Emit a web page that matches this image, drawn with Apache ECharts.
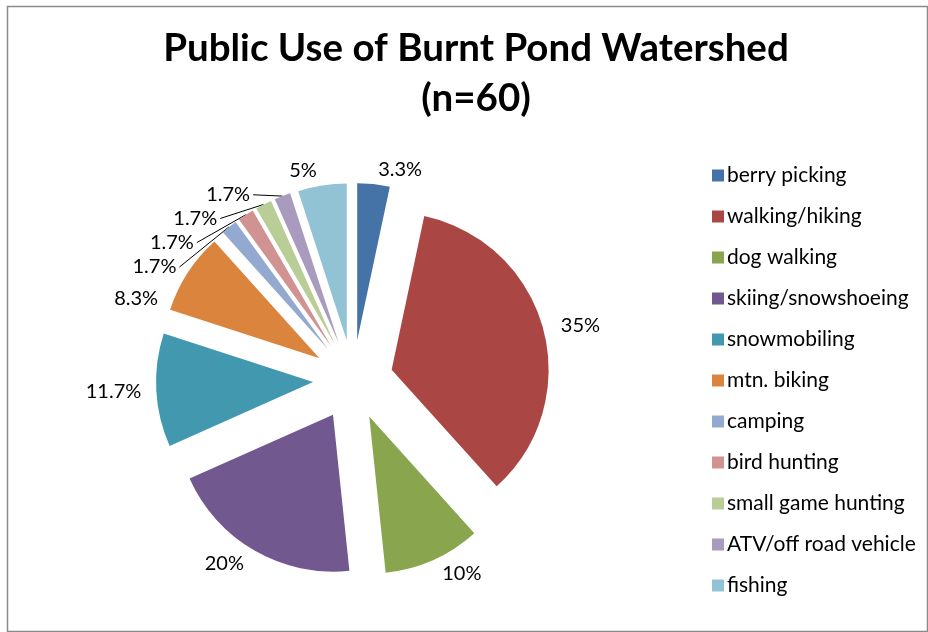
<!DOCTYPE html>
<html>
<head>
<meta charset="utf-8">
<script src="https://cdn.jsdelivr.net/npm/echarts@6/dist/echarts.min.js"></script>
<style>
html,body{margin:0;padding:0;background:#fff;}
#chart{width:928px;height:632px;}
</style>
</head>
<body>
<div id="chart"></div>
<script>
const categories = ["berry picking","walking/hiking","dog walking","skiing/snowshoeing","snowmobiling","mtn. biking","camping","bird hunting","small game hunting","ATV/off road vehicle","fishing"];
const counts = [2,21,6,12,7,5,1,1,1,1,3];
const colors = ["#4572A7","#AA4643","#89A54E","#71588F","#4198AF","#DB843D","#93A9CF","#D19392","#B9CD96","#A99BBD","#92C3D5"];
const titleText = "Public Use of Burnt Pond Watershed\n(n=60)";

const total = counts.reduce((a,b)=>a+b,0);
const data = categories.map((name,i)=>({
  name: name,
  value: counts[i],
  selected: true,
  labelLine: { show: counts[i] / total < 0.02 }
}));

const chart = echarts.init(document.getElementById('chart'), null, {renderer:'canvas'});
chart.setOption({
  animation: false,
  color: colors,
  title: {
    text: titleText,
    left: 476,
    top: 24,
    textAlign: 'center',
    padding: 0,
    textStyle: { fontFamily: 'Lato', fontWeight: 'bold', fontSize: 38.5, lineHeight: 50, color: '#000' }
  },
  graphic: [{
    type: 'rect', left: 5, top: 4, silent: true,
    shape: { width: 920, height: 625 },
    style: { fill: 'none', stroke: '#8a8a8a', lineWidth: 1.5 }
  }],
  legend: {
    orient: 'vertical',
    left: 707,
    top: 160,
    icon: 'rect',
    itemWidth: 12,
    itemHeight: 12,
    itemGap: 20,
    selectedMode: false,
    textStyle: { fontFamily: 'Lato', fontSize: 21, color: '#000', padding: [0,0,0,-2] },
    data: categories
  },
  series: [{
    type: 'pie',
    center: [353, 380],
    radius: 157,
    startAngle: 90,
    clockwise: true,
    selectedMode: 'multiple',
    selectedOffset: 40,
    avoidLabelOverlap: true,
    label: {
      show: true,
      position: 'outside',
      formatter: p => (Math.round(p.value / total * 1000) / 10) + '%',
      fontFamily: 'Lato',
      fontSize: 20,
      lineHeight: 20,
      color: '#000',
      distanceToLabelLine: 3
    },
    labelLine: { length: 15, length2: 0, lineStyle: { color: '#000', width: 1 } },
    itemStyle: { borderWidth: 0 },
    emphasis: { disabled: true },
    data: data
  }]
});
</script>
</body>
</html>
